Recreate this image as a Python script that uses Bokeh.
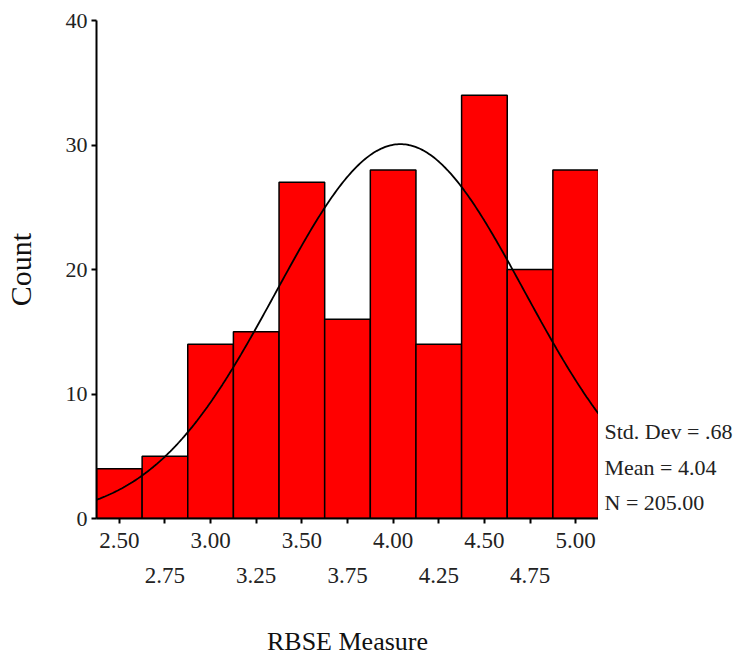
import numpy as np
from bokeh.plotting import figure
from bokeh.layouts import row
from bokeh.models import FixedTicker, LinearAxis, Range1d, ColumnDataSource
from bokeh.core.properties import value
from bokeh.embed import file_html
from bokeh.resources import INLINE

# ---- data ----
bin_centers = [2.50, 2.75, 3.00, 3.25, 3.50, 3.75, 4.00, 4.25, 4.50, 4.75, 5.00]
counts = [4, 5, 14, 15, 27, 16, 28, 14, 34, 20, 28]
bin_width = 0.25
std_dev = 0.68
mean = 4.04
n_total = 205
upper_ticks = [2.50, 3.00, 3.50, 4.00, 4.50, 5.00]
lower_ticks = [2.75, 3.25, 3.75, 4.25, 4.75]
y_ticks = [0, 10, 20, 30, 40]
stats_text = ["Std. Dev = .68", "Mean = 4.04", "N = 205.00"]
stats_y = [6.97, 4.09, 1.28]
x_title = "RBSE Measure"
y_title = "Count"

FONT = "Liberation Serif"

x_lo = bin_centers[0] - bin_width / 2
x_hi = bin_centers[-1] + bin_width / 2
y_range = Range1d(0, 40)

p = figure(width=598, height=658, x_range=Range1d(x_lo, x_hi), y_range=y_range,
           output_backend="svg", toolbar_location=None,
           min_border_left=93, min_border_right=0, min_border_top=20, min_border_bottom=139)
p.grid.visible = False
p.outline_line_color = None

lefts = [c - bin_width / 2 for c in bin_centers]
rights = [c + bin_width / 2 for c in bin_centers]
p.quad(left=lefts, right=rights, bottom=0, top=counts,
       fill_color="#FF0000", line_color="black", line_width=1.5)

# normal curve defined by the shown statistics
xs = np.linspace(x_lo, x_hi, 300)
ys = n_total * bin_width / (std_dev * np.sqrt(2 * np.pi)) * np.exp(-0.5 * ((xs - mean) / std_dev) ** 2)
p.line(xs, ys, line_color="black", line_width=1.8)

# y axis
ya = p.yaxis[0]
ya.ticker = FixedTicker(ticks=y_ticks)
ya.minor_tick_line_color = None
ya.major_tick_out = 5
ya.major_tick_in = 0
ya.major_label_standoff = 4
ya.axis_line_width = 2
ya.major_tick_line_width = 2
ya.major_label_text_font = FONT
ya.major_label_text_font_size = "22px"
ya.major_label_text_color = "#222222"
ya.axis_label = y_title
ya.axis_label_text_font = FONT
ya.axis_label_text_font_size = "30px"
ya.axis_label_text_font_style = "normal"
ya.axis_label_text_color = "#111111"
ya.axis_label_standoff = 26

# x axis (upper row of labels, ticks at every bin)
xa = p.xaxis[0]
xa.ticker = FixedTicker(ticks=bin_centers)
overrides = {}
for c in bin_centers:
    overrides[c] = ("%.2f" % c) if c in upper_ticks else ""
xa.major_label_overrides = overrides
xa.minor_tick_line_color = None
xa.major_tick_out = 5
xa.major_tick_in = 0
xa.major_label_standoff = 9
xa.axis_line_width = 2
xa.major_tick_line_width = 2
xa.major_label_text_font = FONT
xa.major_label_text_font_size = "23px"
xa.major_label_text_color = "#222222"

# lower row of labels + axis title
xa2 = LinearAxis(ticker=FixedTicker(ticks=lower_ticks))
xa2.major_label_overrides = {c: "%.2f" % c for c in lower_ticks}
xa2.axis_line_color = None
xa2.major_tick_line_color = None
xa2.minor_tick_line_color = None
xa2.major_tick_out = 0
xa2.major_tick_in = 0
xa2.major_label_standoff = 17
xa2.major_label_text_font = FONT
xa2.major_label_text_font_size = "23px"
xa2.major_label_text_color = "#222222"
xa2.axis_label = x_title
xa2.axis_label_text_font = FONT
xa2.axis_label_text_font_size = "26px"
xa2.axis_label_text_font_style = "normal"
xa2.axis_label_text_color = "#111111"
xa2.axis_label_standoff = 41
p.add_layout(xa2, "below")

# side panel holding the statistics text (shares the count scale)
side_w = 143
p2 = figure(width=side_w, height=658, x_range=Range1d(0, side_w), y_range=y_range,
            output_backend="svg", toolbar_location=None,
            min_border_left=0, min_border_right=0, min_border_top=20, min_border_bottom=139)
p2.axis.visible = False
p2.grid.visible = False
p2.outline_line_color = None
src = ColumnDataSource(dict(x=[6] * len(stats_text), y=stats_y, t=stats_text))
p2.text(x="x", y="y", text="t", source=src, text_baseline="middle", text_align="left",
        text_font=value(FONT), text_font_size="22px", text_color="#222222")

layout = row(p, p2, spacing=0)
open("out.html", "w").write(file_html(layout, INLINE))
